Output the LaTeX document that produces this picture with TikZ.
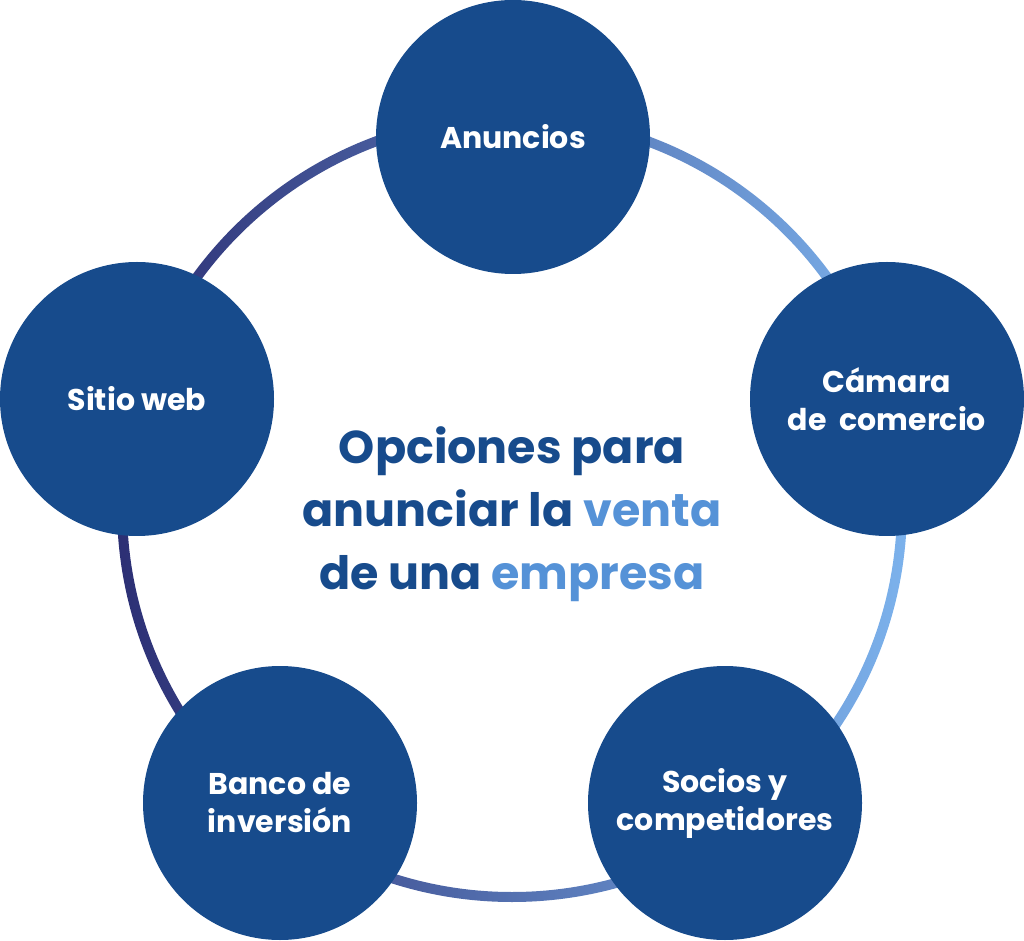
\documentclass[tikz,border=0pt]{standalone}
\usepackage{fontspec}
\setmainfont{Poppins}
\usetikzlibrary{positioning}

\definecolor{navy}{HTML}{174B8C}
\definecolor{skyblue}{HTML}{5592D7}
\definecolor{ringdark}{HTML}{2C2F74}
\definecolor{ringlight}{HTML}{7CB2EC}

\begin{document}
\begin{tikzpicture}[
    x=1pt, y=1pt,
    option/.style={
        circle,
        fill=navy,
        text=white,
        minimum size=274pt,
        inner sep=0pt,
        align=center,
        font=\fontsize{30}{38}\selectfont\bfseries
    },
    title/.style={
        text=navy,
        align=center,
        font=\fontsize{46}{63}\selectfont\bfseries
    }
]

\useasboundingbox (0,0) rectangle (1024,940);

% ring behind the circles
\coordinate (hub) at (512,433);
\shade[left color=ringdark, right color=ringlight, even odd rule]
    (hub) circle (395pt) (hub) circle (385pt);

\node[option] (ads) at (513,803) {Anuncios};
\node[option] (chamber) at (887,541) {Cámara\\de\ \ comercio};
\node[option] (partners) at (725,137) {Socios y\\competidores};
\node[option] (bank) at (280,137) {Banco de\\inversión};
\node[option] (web) at (137,541) {Sitio web};

\node[title] (heading) at (512,426) {Opciones para\\anunciar la \textcolor{skyblue}{venta}\\de una \textcolor{skyblue}{empresa}};

\end{tikzpicture}
\end{document}
